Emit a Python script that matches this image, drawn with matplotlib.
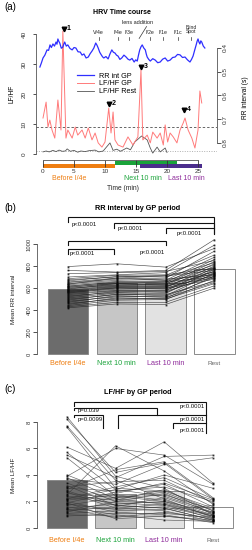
import numpy as np
import matplotlib
matplotlib.use("Agg")
import matplotlib.pyplot as plt
from matplotlib.transforms import blended_transform_factory

plt.rcParams['font.family'] = ['Liberation Sans', 'DejaVu Sans']

# ---------------- panel (a) data ----------------
rr_t = [-0.5, -0.25, 0, 0.3, 0.65, 0.9, 1.13, 1.35, 1.6, 1.85, 2.1, 2.25, 2.4, 2.55, 2.7, 2.95,
        3.2, 3.35, 3.5, 3.75, 4.0, 4.35, 4.7, 5.0, 5.3, 5.65, 6.0, 6.3, 6.6, 6.95, 7.3, 7.6,
        7.9, 8.2, 8.5, 8.7, 8.9, 9.15, 9.4, 9.6, 9.8, 10.15, 10.5, 10.8, 11.1, 11.35, 11.6,
        11.85, 12.1, 12.4, 12.7, 13.05, 13.4, 13.7, 14.0, 14.35, 14.7, 14.95, 15.2, 15.4,
        15.6, 15.8, 16.0, 16.25, 16.5, 16.65, 16.8, 17.05, 17.3, 17.7, 18.1, 18.5, 18.9,
        19.3, 19.7, 20.1, 20.5, 20.9, 21.3, 21.7, 22.1, 22.5, 22.9, 23.3, 23.7, 23.95, 24.2,
        24.45, 24.7, 24.85, 25.0, 25.15, 25.3, 25.45, 25.6, 25.85, 26.1]
rr_s = [0.480, 0.462, 0.442, 0.430, 0.408, 0.410, 0.387, 0.398, 0.383, 0.392, 0.375, 0.384,
        0.362, 0.372, 0.379, 0.401, 0.396, 0.384, 0.375, 0.392, 0.387, 0.402, 0.408, 0.398,
        0.400, 0.416, 0.417, 0.430, 0.425, 0.442, 0.438, 0.424, 0.413, 0.400, 0.379, 0.388,
        0.400, 0.418, 0.429, 0.437, 0.442, 0.436, 0.446, 0.425, 0.408, 0.418, 0.421, 0.430,
        0.434, 0.448, 0.442, 0.430, 0.438, 0.447, 0.451, 0.444, 0.459, 0.450, 0.455, 0.430,
        0.408, 0.395, 0.387, 0.400, 0.408, 0.425, 0.438, 0.448, 0.455, 0.445, 0.451, 0.462,
        0.459, 0.447, 0.442, 0.455, 0.451, 0.440, 0.438, 0.427, 0.429, 0.440, 0.438, 0.450,
        0.459, 0.448, 0.434, 0.410, 0.387, 0.372, 0.362, 0.375, 0.383, 0.370, 0.375, 0.392,
        0.400]

lf_t = [0.0, 0.5, 0.8, 1.1, 1.45, 1.9, 2.4, 2.9, 3.2, 3.7, 4.0, 4.7, 5.2, 5.6, 6.3, 6.8, 7.3,
        7.9, 8.4, 8.9, 9.5, 10.0, 10.6, 10.97, 11.3, 11.6, 12.1, 12.9, 13.7, 14.5, 15.3, 15.8,
        16.1, 16.8, 17.3, 17.7, 18.4, 18.9, 19.4, 19.7, 20.1, 20.5, 21.0, 21.6, 22.1, 22.6,
        22.9, 23.4, 24.0, 24.5, 25.0, 25.3, 25.6]
lf_gp = [12, 17.3, 9, 11.3, 8, 5.3, 18, 8, 41, 5.3, 8, 5.3, 9, 6.3, 8, 5.3, 8.7,
         4.7, 7, 3.7, 2.3, 4, 15.3, 7, 14, 4.7, 3, 2.3, 5.7, 3, 5.7, 28,
         4.7, 6.3, 3.7, 7.3, 5.3, 7, 3, 9.7, 4, 7, 5.7, 3.7, 8, 10.3,
         12, 8, 5.3, 2, 8, 21, 17]

rest_t = [0, 0.5, 1.0, 1.6, 2.1, 2.6, 3.1, 3.6, 3.9, 4.4, 5.0, 5.6, 6.1, 6.8, 7.4, 8.4, 9.0,
          9.7, 10.8, 11.3, 11.9, 12.5, 13.5, 14.1, 14.8, 15.9, 16.8, 17.3, 17.7, 18.4, 18.9,
          19.7, 20.0]
lf_rest = [0.7, 1.0, 0.7, 1.2, 0.8, 1.3, 0.9, 1.0, 1.7, 0.9, 1.2, 0.6, 1.0, 0.8, 1.1, 1.3, 0.7,
           1.0, 3.7, 1.2, 1.6, 0.9, 2.0, 1.4, 4.0, 6.0, 4.7, 2.0, 0.3, 2.3, 0.7, 2.0, 0.5]

events = ['V/4e', 'I/4e', 'I/3e', 'I/2e', 'I/1e', 'I/1c', 'Blind\nSpot']
event_t = [9.0, 12.1, 13.9, 17.3, 19.4, 21.8, 23.9]
lens_t = 15.6
peak_t = [3.4, 10.7, 15.8, 22.7]
peak_v = [41.7, 16.7, 29.0, 14.7]
periods = [(0, 11.6), (11.6, 21.6), (15.6, 25.6)]
period_names = ['Before I/4e', 'Next 10 min', 'Last 10 min']
period_label_t = [4.3, 16.1, 23.1]

# ---------------- panel (b)/(c) data ----------------
groups = ['Before I/4e', 'Next 10 min', 'Last 10 min', 'Rest']
rr_mean = [588, 642, 648, 773]
rr_before = [795, 760, 730, 700, 685, 675, 665, 655, 650, 640, 635, 630, 620, 615, 610, 605, 600,
             595, 590, 585, 580, 575, 570, 565, 560, 555, 550, 540, 530, 520, 510, 500, 490, 480,
             470, 460, 450, 440, 430, 420]
rr_next = [820, 745, 740, 720, 715, 700, 705, 690, 680, 670, 690, 660, 650, 655, 640, 645, 630,
           625, 640, 620, 615, 610, 600, 605, 590, 600, 580, 575, 560, 570, 555, 540, 545, 520,
           530, 500, 510, 490, 470, 455]
rr_last = [790, 760, 750, 740, 720, 715, 700, 710, 690, 680, 670, 665, 660, 650, 655, 640, 635,
           630, 625, 620, 615, 610, 600, 605, 595, 590, 580, 575, 570, 560, 550, 540, 530, 525,
           515, 505, 500, 495, 470, 450]
rr_rest = [960, 1040, 850, 990, 780, 900, 830, 760, 935, 720, 880, 810, 745, 860, 700, 790, 840,
           730, 820, 690, 775, 750, 715, 800, 680, 755, 740, 785, 705, 725, 770, 660, 735, 695,
           650, 710, 640, 670, 620, 600]

lf_mean = [3.6, 2.6, 2.8, 1.6]
c_before = [8.4, 8.2, 7.7, 7.6, 6.1, 5.7, 5.5, 5.3, 4.0, 3.9, 3.8, 3.7, 3.4, 3.2, 3.0, 2.9, 2.7,
            2.5, 2.4, 2.3, 2.2, 2.1, 2.0, 1.9, 1.8, 1.7, 1.6, 1.5, 1.4, 1.3, 1.2, 1.1, 1.0, 0.9,
            3.1, 2.6, 2.8, 1.9, 2.2, 1.4]
c_next = [3.9, 4.2, 3.6, 3.0, 4.5, 2.9, 3.8, 2.4, 2.6, 6.0, 2.2, 3.3, 2.0, 1.7, 2.8, 4.4, 1.5,
          6.2, 2.1, 1.9, 3.1, 2.5, 1.2, 2.7, 1.4, 2.3, 1.0, 1.8, 0.8, 1.6, 2.0, 1.3, 0.9, 1.1,
          3.5, 2.3, 1.7, 0.7, 2.9, 1.5]
c_last = [3.0, 4.9, 2.2, 2.8, 6.5, 2.4, 5.4, 2.0, 3.4, 5.5, 1.8, 4.8, 2.6, 1.5, 3.1, 5.0, 1.3,
          4.3, 2.9, 1.7, 3.8, 2.1, 1.0, 3.3, 1.6, 2.5, 0.6, 2.0, 1.2, 2.3, 1.9, 1.4, 0.9, 1.1,
          3.6, 2.7, 1.5, 0.9, 4.0, 1.8]
c_rest = [1.0, 2.2, 0.8, 1.5, 3.4, 1.2, 5.5, 0.9, 2.1, 3.3, 0.7, 5.3, 1.1, 0.6, 2.0, 2.3, 0.5,
          1.8, 1.3, 0.9, 2.2, 1.0, 0.4, 1.6, 0.8, 1.4, 0.5, 1.2, 0.7, 1.1, 0.9, 1.7, 0.6, 0.8,
          1.9, 1.3, 0.6, 0.5, 3.0, 1.0]

# brackets: (x1, x2, y, left drop, right drop, label, label x, label y, align)
rr_brackets = [(0, 3, 1245, 45, 154, 'p<0.0001', 0.08, 1173, 'left'),
               (0.943, 3, 1191, 45, 46, 'p<0.0001', 1.02, 1143, 'left'),
               (2.0, 3, 1145, 45, 45, 'p<0.0001', 2.23, 1100, 'left'),
               (0, 2.0, 1027, 36, 36, 'p<0.0001', 1.99, 927, 'right'),
               (0, 0.943, 955, 45, 45, 'p<0.0001', 0.04, 918, 'left')]
lf_brackets = [(0.144, 2.86, 9.5, 0.3, 2.33, 'p<0.0001', 2.84, 9.2, 'right'),
               (0.144, 1.85, 9.06, 0.15, 0.53, 'p=0.039', 0.21, 8.83, 'left'),
               (0.144, 0.74, 8.53, 0.15, 0.98, 'p=0.0099', 0.21, 8.15, 'left'),
               (1.05, 2.86, 8.53, 0.98, 0.0, 'p<0.0001', 2.84, 8.15, 'right'),
               (2.18, 2.86, 7.92, 0.37, 0.0, 'p<0.0001', 2.84, 7.32, 'right')]

c_orange = '#EE7D10'
c_green = '#1AA33A'
c_purple_bar = '#4B2D8C'
c_purple_txt = '#8E2A9A'
group_colors = [c_orange, c_green, c_purple_txt, '#666666']
bar_colors = ['#6c6c6c', '#c6c6c6', '#e2e2e2', 'white']

W, H = 253, 550


def fx(x):
    return x / W


def fy(y):
    return 1 - y / H


fig = plt.figure(figsize=(W / 100, H / 100), dpi=100)

# ================= (a) =================
axa = fig.add_axes([fx(36), fy(160), fx(217) - fx(36), fy(28) - fy(160)])
axa.set_xlim(-1.13, 28.06)
axa.set_ylim(-2, 42)
axr = axa.twinx()
axr.set_ylim(0.8716, 0.3158)

axa.axhline(9, color='#666666', lw=0.7, ls=(0, (2.5, 2)))
axa.axhline(1, color='#b0b0b0', lw=0.7, ls=(0, (1, 1.5)))
l_rest, = axa.plot(rest_t, lf_rest, color='#555555', lw=0.6)
l_gp, = axa.plot(lf_t, lf_gp, color='#ff7a7a', lw=0.7)
l_rr, = axr.plot(rr_t, rr_s, color='#2f2fff', lw=0.9)

axa.plot(peak_t, peak_v, ls='none', marker='v', ms=3.3, color='k', clip_on=False)
for i, (pt, pv) in enumerate(zip(peak_t, peak_v)):
    axa.text(pt + 0.45, pv, str(i + 1), fontsize=5, fontweight='bold', va='center',
             ha='left', clip_on=False)

for sp in ['top', 'right']:
    axa.spines[sp].set_visible(False)
for sp in ['top', 'left', 'bottom']:
    axr.spines[sp].set_visible(False)
axa.spines['left'].set_bounds(0, 40)
axa.spines['bottom'].set_bounds(0, 25)
axr.spines['right'].set_bounds(0.4, 0.8)
for sp in list(axa.spines.values()) + list(axr.spines.values()):
    sp.set_linewidth(0.6)
    sp.set_color('#555555')

axa.set_yticks([0, 10, 20, 30, 40])
axa.tick_params(axis='y', length=2.4, width=0.6, pad=4.3, labelsize=4.6, colors='#333333')
axa.set_xticks([0, 5, 10, 15, 20, 25])
axa.tick_params(axis='x', length=5, width=0.6, pad=1.5, labelsize=4.6, colors='#333333')
axr.set_yticks([0.4, 0.5, 0.6, 0.7, 0.8])
axr.tick_params(axis='y', length=2.8, width=0.6, pad=1.5, labelsize=4.6, colors='#333333')
for lab in axa.get_yticklabels() + axr.get_yticklabels():
    lab.set_rotation(90)
    lab.set_va('center')

tr_a = blended_transform_factory(axa.transData, fig.transFigure)
for (t0, t1), col, y0 in zip(periods, [c_orange, c_green, c_purple_bar], [168.3, 165.2, 168.3]):
    axa.broken_barh([(t0, t1 - t0)], (fy(y0), 4.2 / H), facecolors=col,
                    transform=tr_a, clip_on=False)
for name, tt, col in zip(period_names, period_label_t, [c_orange, c_green, c_purple_txt]):
    axa.text(tt, fy(179), name, color=col, fontsize=5, ha='center', va='center',
             transform=tr_a)
axa.text(12.9, fy(189), 'Time (min)', fontsize=4.8, ha='center', va='center',
         transform=tr_a, color='#222222')

for name, tt in zip(events, event_t):
    if '\n' in name:
        axa.text(tt, fy(29.5), name, fontsize=3.6, ha='center', va='center',
                 transform=tr_a, linespacing=0.95, color='#222222')
    else:
        axa.text(tt, fy(32), name, fontsize=3.8, ha='center', va='center',
                 transform=tr_a, color='#222222')
    axa.plot([tt, tt], [fy(36.5), fy(39.5)], color='#333333', lw=0.5, transform=tr_a,
             clip_on=False)
axa.text(15.2, fy(23), 'lens addition', fontsize=4, ha='center', va='center',
         transform=tr_a, color='#222222')
axa.plot([lens_t + 1.1, lens_t - 0.1], [fy(26.5), fy(38.5)], color='#333333', lw=0.5,
         transform=tr_a, clip_on=False)

axa.legend([l_rr, l_gp, l_rest], ['RR int GP', 'LF/HF GP', 'LF/HF Rest'], frameon=False,
           fontsize=5.2, handlelength=2.3, handletextpad=0.7, labelspacing=0.12,
           loc='upper left', bbox_to_anchor=(fx(77), fy(72.5)),
           bbox_transform=fig.transFigure, borderaxespad=0, borderpad=0)

fig.text(fx(12), fy(94), 'LF/HF', rotation=90, fontsize=4.8, ha='center', va='center')
fig.text(fx(246), fy(98), 'RR interval (s)', rotation=90, fontsize=4.8, ha='center',
         va='center')
fig.text(fx(122), fy(12.3), 'HRV Time course', fontsize=5, fontweight='bold',
         ha='center', va='center')
fig.text(fx(4), fy(7.5), '(a)', fontsize=7, ha='left', va='center')


# ================= (b) and (c) =================
def bracket(ax, x1, x2, y, d1, d2):
    ax.plot([x1, x1, x2, x2], [y - d1, y, y, y - d2], color='#111111', lw=0.8,
            solid_joinstyle='miter', clip_on=False)


def group_panel(rect, xlim, ylim, means, subjects, yticks, brackets, ylabel,
                ylabel_y, title, title_y, label_y, tag, tag_y, line_col):
    ax = fig.add_axes(rect)
    ax.set_xlim(*xlim)
    ax.set_ylim(*ylim)
    pos = np.arange(4)
    ax.bar(pos, means, width=0.83, color=bar_colors, edgecolor='#8a8a8a', linewidth=0.7,
           zorder=1)
    for row in zip(*subjects):
        ax.plot(pos, row, color=line_col, lw=0.45, alpha=0.8, marker='s', ms=1.3,
                mfc='k', mec='k', mew=0, zorder=2)
    for x1, x2, y, d1, d2, txt, lx, ly, al in brackets:
        bracket(ax, x1, x2, y, d1, d2)
        ax.text(lx, ly, txt, fontsize=4.3, ha=al, va='center', color='#111111')
    for sp in ['top', 'right', 'bottom']:
        ax.spines[sp].set_visible(False)
    ax.spines['left'].set_bounds(yticks[0], yticks[-1])
    ax.spines['left'].set_linewidth(0.6)
    ax.spines['left'].set_color('#555555')
    ax.set_yticks(yticks)
    ax.tick_params(axis='y', length=2.6, width=0.6, pad=1, labelsize=4.2, colors='#333333')
    for lab in ax.get_yticklabels():
        lab.set_rotation(90)
        lab.set_va('center')
    ax.set_xticks([])
    tr = blended_transform_factory(ax.transData, fig.transFigure)
    for p, g, col in zip(pos, groups, group_colors):
        ax.text(p, fy(label_y), g, color=col, fontsize=5.2 if g != 'Rest' else 4.6,
                ha='center', va='center', transform=tr)
    fig.text(fx(14), fy(ylabel_y), ylabel, rotation=90, fontsize=4.6, ha='center',
             va='center', color='#222222')
    fig.text(fx(138), fy(title_y), title, fontsize=5.2, fontweight='bold', ha='center',
             va='center')
    fig.text(fx(4), fy(tag_y), tag, fontsize=7, ha='left', va='center')
    return ax


group_panel([fx(37), fy(358), fx(240) - fx(37), fy(212) - fy(358)], (-0.635, 3.525),
            (-36.4, 1291), rr_mean, [rr_before, rr_next, rr_last, rr_rest],
            [0, 200, 400, 600, 800, 1000], rr_brackets, 'Mean RR interval', 299,
            'RR interval by GP period', 209, 363.5, '(b)', 208, '#1e1e1e')

group_panel([fx(37), fy(532), fx(240) - fx(37), fy(396) - fy(532)], (-0.617, 3.56),
            (-0.302, 9.96), lf_mean, [c_before, c_next, c_last, c_rest],
            [0, 2, 4, 6, 8], lf_brackets, 'Mean LF/HF', 475,
            'LF/HF by GP period', 392, 540.5, '(c)', 389, '#3a3a3a')

fig.savefig('out.png', dpi=100)
